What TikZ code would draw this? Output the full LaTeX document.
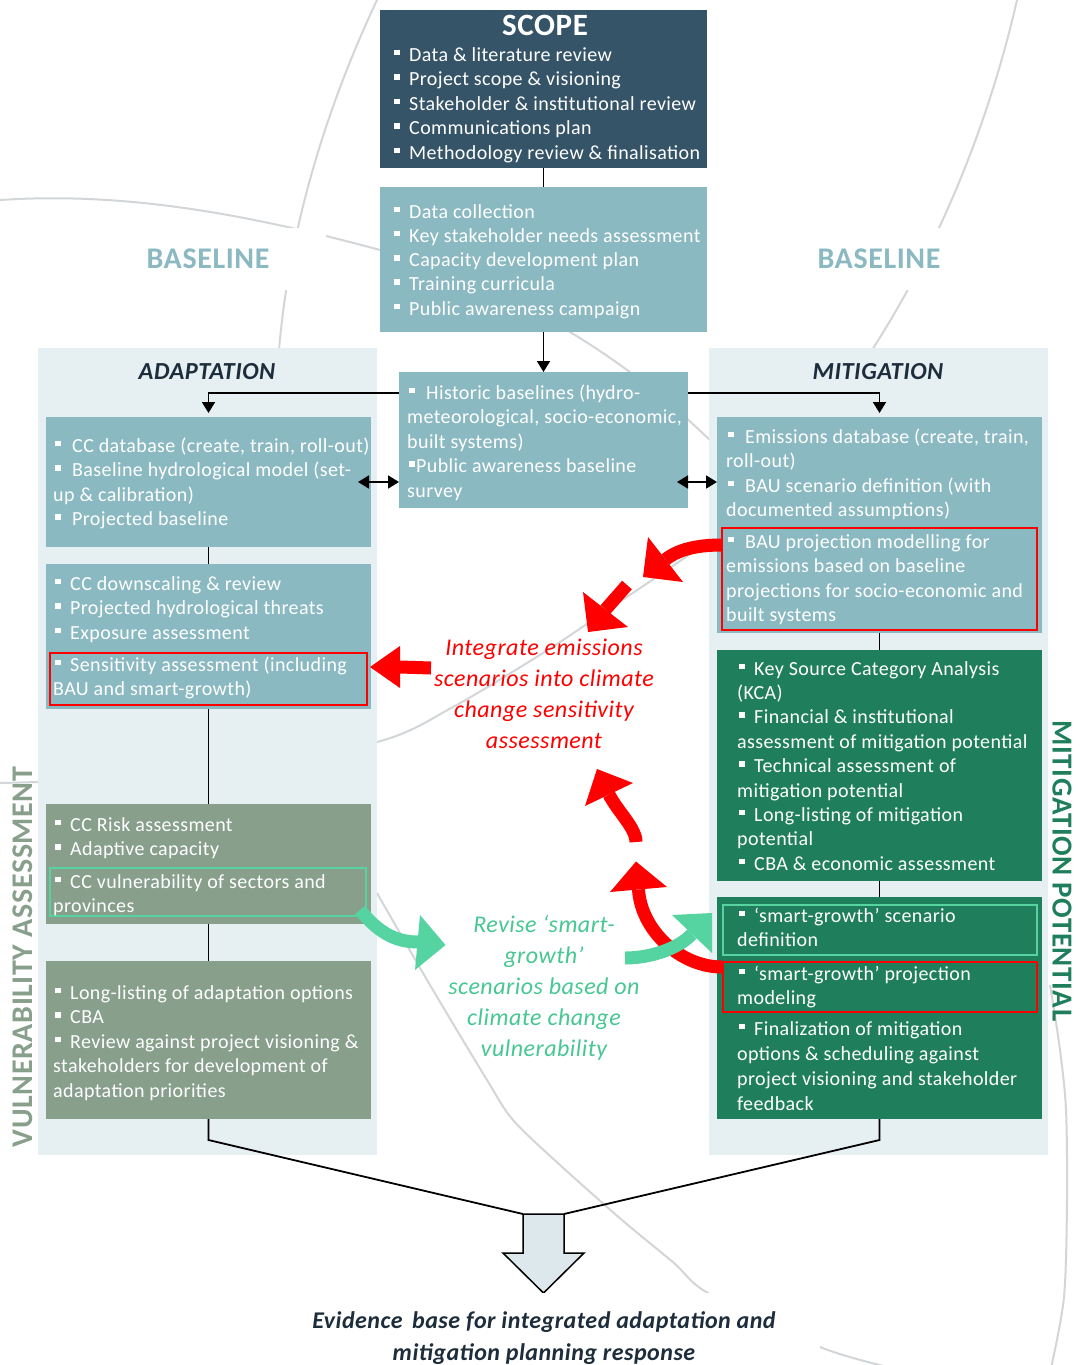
\documentclass[tikz,border=0pt]{standalone}
\usepackage{fontspec}
\setmainfont{Carlito}[LetterSpace=2]
\usetikzlibrary{arrows.meta}

\definecolor{scopeblue}{HTML}{365468}
\definecolor{basecol}{HTML}{8BB9C2}
\definecolor{panelbg}{HTML}{E6EFF2}
\definecolor{adaptgrey}{HTML}{879F8B}
\definecolor{mitgreen}{HTML}{1F7F5C}
\definecolor{mint}{HTML}{55D3A1}
\definecolor{minttext}{HTML}{47C793}
\definecolor{titledark}{HTML}{1E2D3C}
\definecolor{arcgrey}{HTML}{D3D6D8}
\definecolor{arrowfill}{HTML}{DDE8EC}
\definecolor{hotred}{HTML}{FF0000}

% square bullet followed by a fixed gap
\newcommand\bu[1][15pt]{\hspace*{2pt}\makebox[#1][l]{\rule[0.3em]{0.27em}{0.27em}}}
% stacked lines, baseline of the node = baseline of the first line
\newcommand\linesL[1]{\begin{tabular}[t]{@{}l@{}}#1\end{tabular}}
\newcommand\linesC[1]{\begin{tabular}[t]{@{}c@{}}#1\end{tabular}}
\newcommand\bodyfont{\fontsize{20}{24.5}\selectfont}
% filled box given by its corners
\newcommand\boxat[6]{\node[fill=#6, inner sep=0pt, outer sep=0pt,
  minimum width={(#4)-(#2)}, minimum height={(#5)-(#3)}, anchor=north west] (#1) at (#2,#3) {};}
% outlined frame given by its corners
\newcommand\frameat[6]{\node[draw=#6, line width=2pt, inner sep=0pt, outer sep=0pt,
  minimum width={(#4)-(#2)}, minimum height={(#5)-(#3)}, anchor=north west] (#1) at (#2,#3) {};}

\tikzset{
  boxtext/.style={anchor=base west, inner sep=0pt, text=white, font=\bodyfont},
  conn/.style={draw=black, line width=1.8pt},
  arrowend/.style={-{Triangle[width=13pt,length=11pt]}},
  bothends/.style={{Triangle[width=13pt,length=11pt]}-{Triangle[width=13pt,length=11pt]}},
  fatred/.style={draw=hotred, line width=13pt},
  fatmint/.style={draw=mint, line width=13pt},
  bgarc/.style={draw=arcgrey, line width=2pt},
  sidetitle/.style={inner sep=0pt, text=titledark, font=\bfseries\itshape\fontsize{24.5}{28}\selectfont},
  note/.style={anchor=base, inner sep=0pt, font=\itshape\fontsize{24}{31}\selectfont},
}

\begin{document}
\begin{tikzpicture}[x=1pt,y=-1pt]
\useasboundingbox (0,0) rectangle (1079,1365);
\fill[white] (0,0) rectangle (1079,1365);

% faint background arcs
\draw[bgarc] (0,200) .. controls (120,192) and (240,212) .. (380,250) .. controls (520,290) and (630,360) .. (720,450);
\draw[bgarc] (377,0) .. controls (330,100) and (290,220) .. (279,350);
\draw[bgarc] (1017,0) .. controls (985,140) and (930,260) .. (872,350);
\draw[bgarc] plot[smooth] coordinates {(0,783) (200,774) (377,742) (453,707) (543,653) (603,613) (693,552) (720,530)};
\draw[bgarc] plot[smooth] coordinates {(377,893) (430,985) (487,1080) (513,1120) (560,1165) (622,1220) (674,1263) (708,1293) (820,1347) (892,1368)};
\draw[bgarc] plot[smooth] coordinates {(1050,985) (1060,1050) (1066,1110) (1067,1200) (1064,1297) (1051,1368)};

% BASELINE labels
\node[fill=white, minimum width=236, minimum height=62, inner sep=0pt, text=basecol,
  font=\bfseries\fontsize{30}{36}\selectfont] (baseL) at (208,259) {BASELINE};
\node[fill=white, minimum width=190, minimum height=62, inner sep=0pt, text=basecol,
  font=\bfseries\fontsize{30}{36}\selectfont] (baseR) at (879,259) {BASELINE};

% column panels
\boxat{adpanel}{38}{348}{377}{1155}{panelbg}
\boxat{mitpanel}{709}{348}{1048}{1155}{panelbg}
\node[sidetitle] (adtitle) at (207,372) {ADAPTATION};
\node[sidetitle] (mittitle) at (878,372) {MITIGATION};

% scope
\boxat{scope}{380}{10}{707}{168}{scopeblue}
\node[anchor=base, inner sep=0pt, text=white, font=\bfseries\fontsize{31}{36}\selectfont] (scopetitle) at (545,35) {SCOPE};
\node[boxtext] (scopetext) at (392,61) {\linesL{\bu Data \& literature review\\
  \bu Project scope \& visioning\\
  \bu Stakeholder \& institutional review\\
  \bu Communications plan\\
  \bu Methodology review \& finalisation}};

% shared baseline work
\boxat{basebox}{380}{187}{707}{332}{basecol}
\node[boxtext, font=\fontsize{20}{24.25}\selectfont] (basetext) at (392,218) {\linesL{\bu Data collection\\
  \bu Key stakeholder needs assessment\\
  \bu Capacity development plan\\
  \bu Training curricula\\
  \bu Public awareness campaign}};

\boxat{hist}{399}{372}{688}{508}{basecol}
\node[boxtext] (histtext) at (407,399) {\linesL{\bu[17pt]Historic baselines (hydro-\\
  meteorological, socio-economic,\\
  built systems)\\
  \bu[7pt]Public awareness baseline\\
  survey}};

% adaptation column
\boxat{a1}{46}{417}{371}{547}{basecol}
\node[boxtext] (a1text) at (53,452) {\linesL{\bu[17pt]CC database (create, train, roll-out)\\
  \bu[17pt]Baseline hydrological model (set-\\
  up \& calibration)\\
  \bu[17pt]Projected baseline}};

\boxat{a2}{46}{564}{371}{709}{basecol}
\frameat{a2frame}{50}{653}{367}{705}{hotred}
\node[boxtext] (a2text) at (53,590) {\linesL{\bu CC downscaling \& review\\
  \bu Projected hydrological threats\\
  \bu Exposure assessment}};
\node[boxtext] (a2ftext) at (53,671) {\linesL{\bu Sensitivity assessment (including\\
  BAU and smart-growth)}};

\boxat{a3}{46}{804}{371}{924}{adaptgrey}
\frameat{a3frame}{50}{868}{366}{916}{mint}
\node[boxtext] (a3text) at (53,831) {\linesL{\bu CC Risk assessment\\
  \bu Adaptive capacity}};
\node[boxtext] (a3ftext) at (53,888) {\linesL{\bu CC vulnerability of sectors and\\
  provinces}};

\boxat{a4}{46}{961}{371}{1119}{adaptgrey}
\node[boxtext] (a4text) at (53,999) {\linesL{\bu Long-listing of adaptation options\\
  \bu CBA\\
  \bu Review against project visioning \&\\
  stakeholders for development of\\
  adaptation priorities}};

% mitigation column
\boxat{m1}{717}{417}{1042}{633}{basecol}
\frameat{m1frame}{722}{528}{1037}{630}{hotred}
\node[boxtext] (m1text) at (726,443) {\linesL{\bu[17pt]Emissions database (create, train,\\
  roll-out)\\
  \bu[17pt]BAU scenario definition (with\\
  documented assumptions)}};
\node[boxtext] (m1ftext) at (726,548) {\linesL{\bu[17pt]BAU projection modelling for\\
  emissions based on baseline\\
  projections for socio-economic and\\
  built systems}};

\boxat{m2}{717}{650}{1042}{881}{mitgreen}
\node[boxtext, font=\fontsize{20}{24.4}\selectfont] (m2text) at (737,675) {\linesL{\bu Key Source Category Analysis\\
  (KCA)\\
  \bu Financial \& institutional\\
  assessment of mitigation potential\\
  \bu Technical assessment of\\
  mitigation potential\\
  \bu Long-listing of mitigation\\
  potential\\
  \bu CBA \& economic assessment}};

\boxat{m3}{717}{897}{1042}{1119}{mitgreen}
\frameat{m3frameA}{723}{905}{1037}{955}{mint}
\frameat{m3frameB}{723}{962}{1037}{1012}{hotred}
\node[boxtext] (m3atext) at (737,922) {\linesL{\bu ‘smart-growth’ scenario\\
  definition}};
\node[boxtext] (m3btext) at (737,980) {\linesL{\bu ‘smart-growth’ projection\\
  modeling}};
\node[boxtext, font=\fontsize{20}{25}\selectfont] (m3ctext) at (737,1035) {\linesL{\bu Finalization of mitigation\\
  options \& scheduling against\\
  project visioning and stakeholder\\
  feedback}};

% vertical side titles
\node[rotate=90, inner sep=0pt, text=adaptgrey, font=\bfseries\fontsize{30}{34}\selectfont] (vulntitle) at (23,957) {VULNERABILITY ASSESSMENT};
\node[rotate=-90, inner sep=0pt, text=mitgreen, font=\bfseries\fontsize{29}{34}\selectfont] (mitpotential) at (1062,871) {MITIGATION POTENTIAL};

% connectors
\draw[conn] (scope.south) -- (basebox.north);
\draw[conn, arrowend] (basebox.south) -- (hist.north);
\draw[conn, arrowend] ([yshift=-21pt]hist.north west) -| ([yshift=4pt]a1.north);
\draw[conn, arrowend] ([yshift=-21pt]hist.north east) -| ([yshift=4pt]m1.north);
\draw[conn, bothends] ([xshift=-13pt]a1.east) -- (a1.east -| hist.west);
\draw[conn, bothends] ([xshift=-11pt]hist.east |- a1.east) -- (a1.east -| m1.west);
\draw[conn] (a1.south) -- (a2.north);
\draw[conn] (a2.south) -- (a3.north);
\draw[conn] (a3.south) -- (a4.north);
\draw[conn] (m1.south) -- (m2.north);
\draw[conn] (m2.south) -- (m3.north);

% merging into the evidence base
\coordinate (out) at (543.5,1214);
\draw[conn] (a4.south) -- ++(0,21) -- ([xshift=-20.5pt]out);
\draw[conn] (m3.south) -- ++(0,21) -- ([xshift=20.5pt]out);
\draw[line width=1.5pt, fill=arrowfill, line join=miter] (out) ++(-20.5,0) -- ++(0,39) -- ++(-20,0)
  -- ++(40.5,40) -- ++(40.5,-40) -- ++(-20,0) -- ++(0,-39) -- cycle;
\node[fill=white, minimum width=552, minimum height=72, inner sep=0pt] (evbg) at (544,1329) {};
\node[anchor=base, inner sep=0pt, text=titledark, font=\bfseries\itshape\fontsize{24}{32}\selectfont] (evidence) at (544,1328)
  {\linesC{Evidence\hspace{0.4em}base for integrated adaptation and\\ mitigation planning response}};

% red loop: emissions scenarios into sensitivity
\draw[fatred] (722,545) .. controls (700,545) and (679.7,548.3) .. (665.5,559.5);
\fill[hotred] (648,537) -- (683,582) -- (643,577) -- cycle;
\draw[fatred] (627,585) -- (605.5,609.5);
\fill[hotred] (583,592) -- (628,627) -- (588,632) -- cycle;
\draw[fatred] (431,668) -- (400,667);
\fill[hotred] (400,646) -- (400,688) -- (370,667) -- cycle;
\draw[fatred] (722,967) .. controls (680,967) and (641,930) .. (638.5,889.5);
\fill[hotred] (610,892) -- (667,887) -- (636,861.5) -- cycle;
\draw[fatred] (636,842) .. controls (636,828) and (618,812) .. (609,794.5);
\fill[hotred] (585,806) -- (633,783) -- (597,769) -- cycle;
\node[note, text=hotred] (redtext) at (544,655) {\linesC{Integrate emissions\\ scenarios into climate\\ change sensitivity\\ assessment}};

% mint loop: smart-growth scenarios from vulnerability
\draw[fatmint] (360,910) .. controls (378,932) and (395,942) .. (418,942);
\fill[mint] (420,915) -- (445.5,945) -- (415,970) -- cycle;
\draw[fatmint] (625,958) .. controls (650,958) and (678,949) .. (692,934);
\fill[mint] (672,915) -- (712,953) -- (712,913) -- cycle;
\node[note, text=minttext] (minttextnode) at (544,932) {\linesC{Revise ‘smart-\\ growth’\\ scenarios based on\\ climate change\\ vulnerability}};

\end{tikzpicture}
\end{document}
